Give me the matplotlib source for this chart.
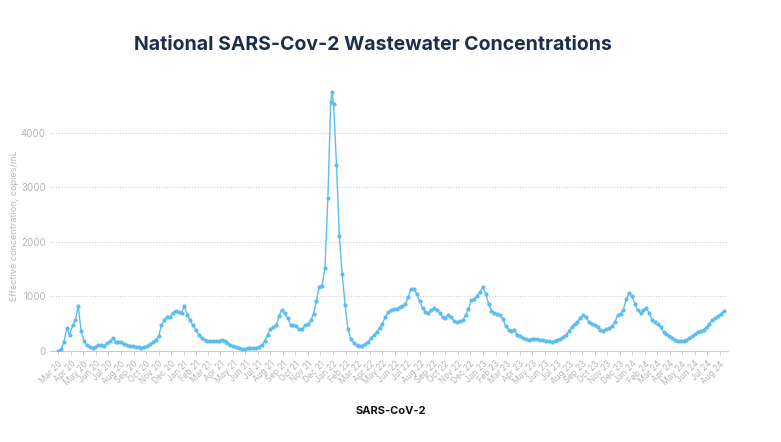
import matplotlib.pyplot as plt
import matplotlib.dates as mdates
import pandas as pd

plt.rcParams['font.family'] = ['Inter', 'DejaVu Sans']

# weekly national concentration (copies/mL), first week starting 2020-03-01
start_date = "2020-03-01"
conc_2020 = [5, 30, 164, 418, 297, 467, 570, 824, 364, 182,
             103, 67, 61, 73, 115, 109, 97, 139, 176, 230,
             164, 164, 164, 127, 109, 97, 91, 79, 67, 61,
             67, 91, 121, 170, 194, 267, 470, 570, 620, 630,
             690, 740, 715, 705]
conc_2021 = [820, 660, 560, 470, 380, 300, 230, 195, 182, 190,
             185, 175, 190, 195, 175, 140, 110, 85, 70, 55,
             40, 42, 50, 55, 60, 62, 80, 110, 180, 300,
             400, 440, 470, 640, 760, 690, 600, 480, 470, 460,
             400, 400, 470, 490, 560, 680, 920, 1180, 1200, 1530,
             2810, 4560]
conc_2022 = [4530, 3420, 2100, 1410, 850, 400, 215, 153, 110, 98,
             98, 123, 166, 240, 290, 350, 427, 500, 622, 713,
             744, 762, 774, 805, 817, 854, 988, 1140, 1140, 1049,
             909, 787, 713, 695, 744, 787, 744, 695, 622, 604,
             652, 622, 543, 530, 543, 561, 652, 774, 927, 957,
             1000, 1079]
conc_2023 = [1171, 1049, 866, 740, 705, 683, 652, 591, 451, 390,
             360, 390, 299, 268, 244, 226, 207, 226, 226, 220,
             207, 195, 183, 177, 165, 177, 207, 226, 256, 299,
             360, 439, 500, 530, 610, 652, 622, 530, 500, 482,
             439, 378, 372, 395, 420, 451, 530, 652, 683, 756,
             957, 1061, 1000]
conc_2024 = [866, 744, 695, 744, 787, 695, 573, 530, 488, 439,
             348, 305, 274, 244, 207, 183, 177, 183, 207, 232,
             274, 305, 348, 366, 390, 439, 500, 573, 610, 634,
             683, 726]

# extra mid-week reading at the Omicron peak
peak_date = "2021-12-29"
peak_value = 4750

y_ticks = [0, 1000, 2000, 3000, 4000]

conc = conc_2020 + conc_2021 + conc_2022 + conc_2023 + conc_2024
dates = pd.date_range(start_date, periods=len(conc), freq="7D")
series = pd.Series(conc, index=dates)
series[pd.Timestamp(peak_date)] = peak_value
series = series.sort_index()

fig = plt.figure(figsize=(7.81, 4.42), dpi=100)
ax = fig.add_axes([0.064, 0.206, 0.868, 0.592])

ax.plot(series.index, series.values, color="#5bbdf0", lw=1.0,
        marker="o", ms=2.0, mec="#5bbdf0", mfc="#5bbdf0", zorder=3)

ax.set_ylim(0, 4800)
ax.set_xlim(pd.Timestamp("2020-02-10"), pd.Timestamp("2024-08-21"))
ax.set_yticks(y_ticks)
ax.grid(axis="y", color="#cfcfcf", linestyle=(0, (1, 1.5)), lw=0.8)
ax.set_axisbelow(True)

ax.xaxis.set_major_locator(mdates.MonthLocator())
ax.xaxis.set_major_formatter(mdates.DateFormatter("%b %y"))
for lab in ax.get_xticklabels():
    lab.set_rotation(45)
    lab.set_ha("right")
    lab.set_rotation_mode("anchor")

ax.tick_params(axis="x", colors="#c8c8c8", labelsize=6, length=3, width=0.6,
               labelcolor="#b5b5b5", pad=3)
ax.tick_params(axis="y", length=0, labelsize=7, labelcolor="#b5b5b5", pad=3)

for side in ["top", "right", "left"]:
    ax.spines[side].set_visible(False)
ax.spines["bottom"].set_color("#cccccc")
ax.spines["bottom"].set_linewidth(0.8)

ax.set_ylabel("Effective concentration, copies/mL", color="#b8b8b8",
              fontsize=6.5)
ax.yaxis.set_label_coords(-0.045, 0.48)

fig.text(0.478, 0.898, "National SARS-Cov-2 Wastewater Concentrations",
         ha="center", va="center", fontsize=14, fontweight="bold",
         color="#1b2e4b")
fig.text(0.5, 0.07, "SARS-CoV-2", ha="center", va="center",
         fontsize=8, fontweight="bold", color="#111111")

fig.savefig("out.png", dpi=100)
